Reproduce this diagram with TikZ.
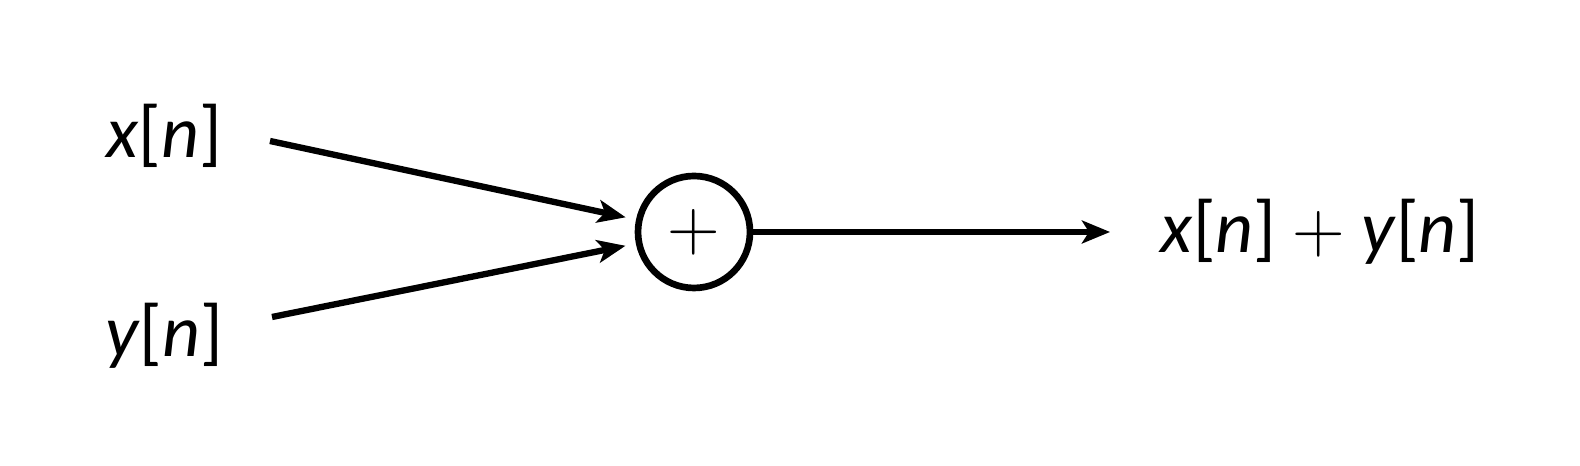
\documentclass[tikz,border=0pt]{standalone}
\usepackage{fontspec}
\setmainfont{Carlito}
\usetikzlibrary{arrows.meta}

\begin{document}
\begin{tikzpicture}
    \useasboundingbox (0,0) rectangle (15.8,-4.66);
    \begin{scope} [every node/.style={font=\fontsize{21}{25}\selectfont}]
        \node (x) at (1.64,-1.36) {\textit{x}[\textit{n}]};
        \node (y) at (1.64,-3.36) {\textit{y}[\textit{n}]};
        \node (sum) at (6.94,-2.32) [circle,draw,line width=1.9pt,minimum size=1.12cm,inner sep=0pt] {$+$};
        \node (xy) at (13.2,-2.32) [inner sep=0pt] {\textit{x}[\textit{n}]${}+{}$\textit{y}[\textit{n}]};
        \coordinate (xa) at (2.70,-1.41);
        \coordinate (ya) at (2.72,-3.17);
    \end{scope}

    \begin{scope}[>={Stealth[black,length=8pt,width=6.5pt,inset=2pt]},
            every edge/.style={draw,line width=1.8pt}]
        \path [->] (xa) edge[shorten >=3pt] (sum);
        \path [->] (ya) edge[shorten >=3pt] (sum);
        \path [->] (sum) edge[shorten >=0.5cm] (xy);
    \end{scope}
\end{tikzpicture}
\end{document}
